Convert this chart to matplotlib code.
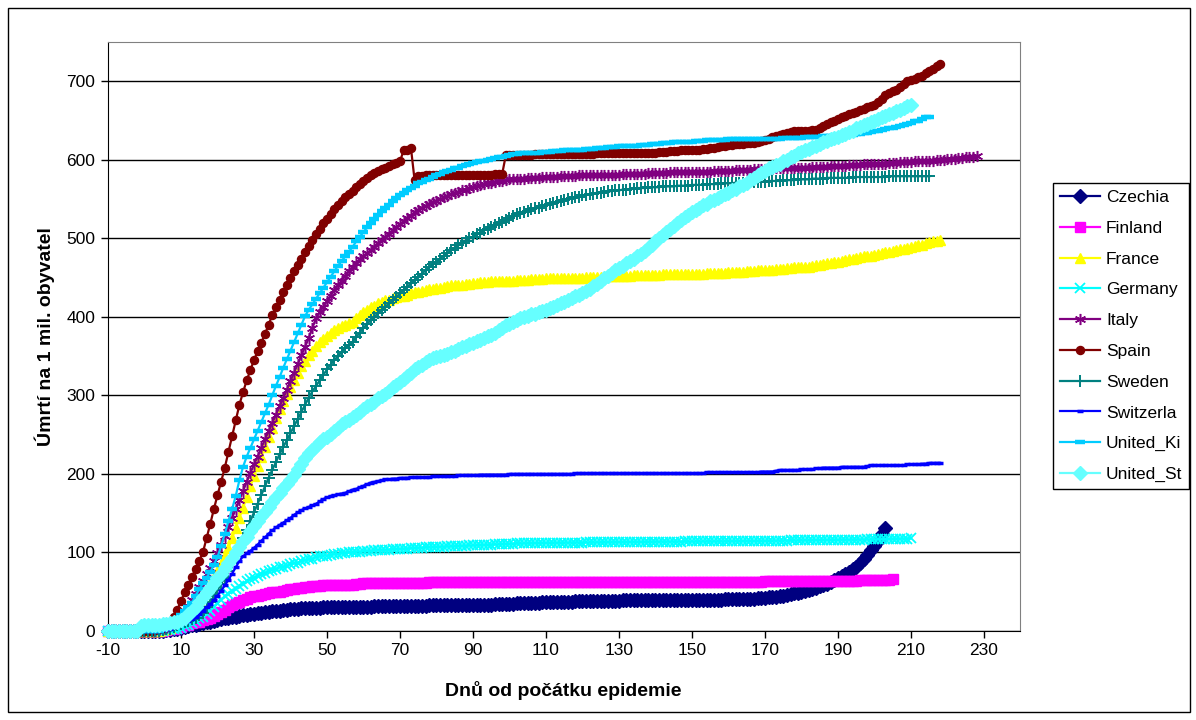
import numpy as np
import matplotlib.pyplot as plt
from matplotlib.patches import Rectangle

plt.rcParams['font.family'] = ['Liberation Sans', 'DejaVu Sans']
plt.rcParams['axes.unicode_minus'] = False

# all series start at day -10, one value per day
first_day = -10

czechia = [
    0, 0, 0, 0, 0, 0, 0, 0, 0, 0,
    0, 0, 0, 0, 0, 0.5, 1, 1.5, 2, 3,
    4, 5, 6, 7, 8, 9, 10, 11, 12, 13,
    14, 15, 16, 17, 17.5, 18, 19, 20, 20.5, 21,
    22, 22.5, 23, 24, 24.5, 25, 25.5, 26, 26.5, 27,
    27.5, 28, 28.5, 28.8, 29, 29.2, 29.4, 29.6, 29.8, 30,
    30, 30.2, 30.3, 30.4, 30.5, 30.6, 30.7, 30.8, 30.9, 31,
    31, 31, 31.1, 31.2, 31.3, 31.4, 31.5, 31.5, 31.6, 31.7,
    31.8, 31.9, 32, 32, 32.1, 32.2, 32.2, 32.3, 32.4, 32.4,
    32.5, 32.5, 32.6, 32.6, 32.7, 32.7, 32.8, 32.8, 32.9, 32.9,
    33, 33, 33, 33.2, 33.4, 33.6, 33.8, 34, 34.2, 34.4,
    34.6, 34.8, 35, 35.2, 35.4, 35.6, 35.8, 36, 36.2, 36.4,
    36.6, 36.8, 37, 37, 37.1, 37.2, 37.3, 37.4, 37.5, 37.6,
    37.7, 37.8, 37.9, 38, 38.1, 38.2, 38.3, 38.4, 38.5, 38.6,
    38.7, 38.8, 38.9, 39, 39, 39, 39, 39, 39, 39.1,
    39.1, 39.2, 39.2, 39.3, 39.3, 39.4, 39.4, 39.5, 39.5, 39.6,
    39.6, 39.7, 39.7, 39.8, 39.8, 39.9, 39.9, 40, 40, 40.1,
    40.2, 40.3, 40.4, 40.5, 40.7, 40.9, 41.1, 41.3, 41.6, 41.9,
    42.2, 42.6, 43, 43.6, 44.3, 45, 45.8, 46.7, 47.7, 48.8,
    50, 51.2, 52.5, 53.8, 55.2, 56.7, 58.3, 60, 62, 64.5,
    67, 69.5, 72, 75, 78.5, 82, 86, 91, 97, 103,
    108, 115, 123, 131,
]

finland = [
    0, 0, 0, 0, 0, 0, 0, 0, 0, 0,
    0, 0, 0, 0, 0, 0.5, 1, 2, 3, 4,
    5, 7, 8, 10, 11, 12, 14, 15, 17, 19,
    21, 24, 27, 30, 33, 35, 37, 39, 41, 43,
    44, 45, 46, 47, 48, 49, 49.5, 50, 51, 52,
    53, 54, 54.5, 55, 56, 56.5, 57, 57, 57.5, 58,
    58, 58, 58.5, 58.5, 59, 59, 59, 59, 60, 60,
    60.5, 61, 61, 61, 61.2, 61.3, 61.4, 61.5, 61.5, 61.5,
    61.5, 61.5, 61.5, 61.6, 61.6, 61.6, 61.6, 61.6, 61.7, 61.7,
    61.7, 61.7, 61.8, 61.8, 61.8, 61.8, 61.9, 61.9, 61.9, 61.9,
    62.2, 62.2, 62.2, 62.2, 62.3, 62.3, 62.3, 62.3, 62.3, 62.3,
    62.3, 62.3, 62.4, 62.4, 62.4, 62.4, 62.4, 62.4, 62.4, 62.4,
    62.4, 62.4, 62.5, 62.5, 62.5, 62.5, 62.5, 62.5, 62.5, 62.5,
    62.5, 62.5, 62.5, 62.5, 62.5, 62.5, 62.6, 62.6, 62.6, 62.6,
    62.6, 62.6, 62.6, 62.6, 62.6, 62.6, 62.6, 62.6, 62.6, 62.6,
    62.7, 62.7, 62.7, 62.7, 62.7, 62.7, 62.7, 62.7, 62.7, 62.7,
    62.7, 62.7, 62.8, 62.8, 62.8, 62.8, 62.8, 62.8, 62.8, 62.8,
    62.8, 62.8, 62.8, 62.8, 62.9, 62.9, 62.9, 62.9, 62.9, 62.9,
    64, 64, 64, 64, 64, 64, 64, 64, 64, 64,
    64, 64, 64, 64.1, 64.1, 64.1, 64.1, 64.1, 64.1, 64.1,
    64.2, 64.2, 64.2, 64.2, 64.2, 64.2, 64.3, 64.3, 64.3, 64.3,
    64.5, 65, 65, 65.5, 65.5, 66,
]

france = [
    0, 0, 0, 0, 0, 0, 0, 0, 0, 0,
    0, 0, 0, 0, 0, 1, 2, 4, 6, 9,
    13, 17, 22, 28, 34, 40, 47, 54, 61, 68,
    76, 85, 95, 105, 118, 131, 144, 157, 170, 184,
    197, 210, 222, 234, 247, 259, 271, 283, 293, 302,
    311, 320, 329, 337, 344, 351, 357, 363, 368, 372,
    376, 380, 383, 386, 388, 390, 392, 394, 398, 402,
    406, 409, 412, 414, 417, 419, 421, 422, 424, 425,
    426, 427, 428, 430, 431, 432, 433, 434, 435, 436,
    437, 437, 438, 439, 440, 440, 441, 441, 442, 442,
    443, 443, 444, 444, 444, 445, 445, 445, 446, 446,
    446, 446, 447, 447, 447, 447, 448, 448, 448, 448,
    449, 449, 449, 449, 449, 450, 450, 450, 450, 450,
    450, 451, 451, 451, 451, 451, 451, 452, 452, 452,
    452, 452, 452, 452, 453, 453, 453, 453, 453, 453,
    453, 453, 454, 454, 454, 454, 454, 454, 455, 455,
    455, 455, 455, 455, 456, 456, 456, 456, 456, 456,
    457, 457, 457, 457, 457, 458, 458, 458, 459, 459,
    459, 460, 460, 461, 461, 461, 462, 462, 463, 463,
    463, 464, 464, 465, 466, 466, 467, 468, 469, 470,
    470, 471, 472, 473, 474, 475, 476, 477, 477, 478,
    479, 480, 481, 482, 483, 484, 485, 486, 487, 488,
    489, 490, 491, 492, 494, 495, 496, 497, 498,
]

germany = [
    0, 0, 0, 0, 0, 0, 0, 0, 0, 0,
    0, 0, 0, 0, 0, 0.5, 1, 1.5, 2, 3,
    4, 6, 8, 10, 13, 16, 18, 22, 26, 30,
    35, 40, 44, 47, 51, 54, 57, 60, 63, 66,
    68, 70, 72, 74, 76, 78, 79, 81, 82, 83,
    85, 86, 87, 89, 90, 91, 92, 94, 95, 96,
    96, 97, 98, 98, 99, 99, 100, 100, 101, 101,
    101.5, 102, 102, 102.5, 103, 103, 103, 103.5, 103.8, 104,
    104.3, 104.6, 104.9, 105.2, 105.5, 105.8, 106, 106.3, 106.6, 106.8,
    107, 107.2, 107.4, 107.6, 107.8, 108, 108.2, 108.4, 108.6, 108.8,
    109, 109.2, 109.4, 109.6, 109.8, 110, 110.2, 110.4, 110.6, 110.8,
    111, 111.2, 111.4, 111.5, 111.6, 111.7, 111.8, 111.9, 112, 112,
    112.1, 112.2, 112.2, 112.3, 112.3, 112.4, 112.4, 112.5, 112.5, 112.6,
    112.6, 112.7, 112.7, 112.8, 112.8, 112.9, 112.9, 113, 113, 113,
    113.1, 113.1, 113.2, 113.2, 113.3, 113.3, 113.4, 113.4, 113.5, 113.6,
    113.6, 113.6, 113.7, 113.7, 113.7, 113.8, 113.8, 113.8, 113.9, 113.9,
    113.9, 114, 114, 114, 114.1, 114.1, 114.1, 114.2, 114.2, 114.2,
    114.3, 114.3, 114.3, 114.4, 114.4, 114.4, 114.5, 114.5, 114.5, 114.6,
    114.6, 114.7, 114.8, 114.9, 115, 115, 115.1, 115.2, 115.2, 115.3,
    115.4, 115.4, 115.5, 115.6, 115.6, 115.7, 115.8, 115.8, 115.9, 116,
    116, 116, 116.1, 116.1, 116.2, 116.2, 116.3, 116.4, 116.5, 116.5,
    116.6, 116.7, 116.8, 116.9, 117, 117.1, 117.3, 117.4, 117.5, 117.7,
    117.8,
]

italy = [
    0, 0, 0, 0, 0, 0, 0, 0, 0, 0,
    0, 0, 0, 0, 1, 2, 4, 7, 10, 14,
    19, 25, 32, 39, 47, 56, 64, 72, 80, 89,
    99, 110, 121, 132, 144, 155, 167, 178, 190, 201,
    212, 222, 233, 244, 254, 265, 275, 286, 296, 307,
    318, 329, 340, 351, 362, 373, 386, 398, 406, 413,
    420, 427, 434, 440, 446, 452, 458, 464, 468, 473,
    477, 481, 485, 489, 494, 498, 502, 506, 510, 514,
    518, 522, 526, 529, 533, 536, 539, 541, 544, 546,
    548, 550, 552, 554, 556, 558, 559, 561, 562, 564,
    565, 567, 568, 569, 570, 571, 572, 573, 573, 574,
    575, 575, 576, 576, 576, 577, 577, 577, 577, 578,
    578, 578, 578, 578, 579, 579, 579, 579, 579, 580,
    580, 580, 580, 580, 581, 581, 581, 581, 581, 581,
    581, 582, 582, 582, 582, 582, 582, 582, 583, 583,
    583, 583, 583, 583, 584, 584, 584, 584, 584, 584,
    585, 585, 585, 585, 585, 585, 586, 586, 586, 586,
    586, 586, 587, 587, 587, 587, 587, 588, 588, 588,
    588, 588, 588, 589, 589, 589, 589, 589, 590, 590,
    590, 590, 590, 591, 591, 591, 591, 591, 592, 592,
    592, 592, 592, 593, 593, 593, 593, 594, 594, 594,
    595, 595, 595, 595, 596, 596, 596, 597, 597, 597,
    597, 598, 598, 598, 599, 599, 599, 600, 600, 600,
    601, 601, 601, 602, 602, 603, 603, 604, 605,
]

spain = [
    0, 0, 0, 0, 0, 0, 0, 0, 0, 0,
    0, 0, 0, 1, 2, 4, 7, 12, 18, 27,
    38, 49, 59, 69, 79, 89, 100, 118, 136, 155,
    173, 190, 208, 228, 248, 268, 288, 304, 319, 332,
    345, 356, 367, 378, 390, 402, 412, 422, 431, 440,
    449, 458, 466, 474, 482, 490, 498, 505, 512, 519,
    525, 531, 537, 542, 547, 552, 556, 560, 565, 569,
    573, 577, 580, 583, 586, 588, 590, 592, 594, 596,
    598, 612, 613, 615, 574, 579, 579, 580, 580, 580,
    580, 580, 580, 580, 581, 581, 581, 581, 581, 581,
    581, 581, 581, 581, 581, 581, 582, 582, 582, 606,
    606, 606, 606, 606, 606, 606, 606, 607, 607, 607,
    607, 607, 607, 607, 607, 607, 607, 607, 607, 607,
    607, 607, 607, 607, 608, 608, 608, 608, 608, 608,
    608, 608, 608, 608, 608, 608, 608, 608, 609, 609,
    609, 610, 610, 610, 611, 611, 611, 612, 612, 612,
    613, 613, 613, 614, 614, 615, 615, 616, 617, 618,
    619, 619, 620, 620, 620, 621, 621, 621, 622, 624,
    625, 627, 629, 630, 631, 633, 634, 635, 636, 636,
    637, 637, 637, 638, 638, 640, 643, 646, 648, 650,
    652, 654, 656, 658, 659, 661, 663, 665, 667, 669,
    670, 673, 677, 682, 685, 687, 689, 693, 697, 700,
    702, 703, 705, 707, 710, 713, 716, 719, 722,
]

sweden = [
    0, 0, 0, 0, 0, 0, 0, 0, 0, 0,
    0, 0, 0, 0, 0, 1, 2, 3, 5, 7,
    9, 11, 13, 15, 17, 20, 23, 30, 37, 44,
    52, 60, 68, 76, 86, 96, 107, 118, 129, 140,
    151, 162, 173, 184, 195, 205, 215, 225, 234, 243,
    252, 261, 270, 279, 288, 297, 305, 312, 319, 326,
    333, 339, 345, 350, 355, 360, 364, 368, 374, 380,
    386, 391, 396, 400, 405, 409, 413, 417, 421, 425,
    430, 434, 438, 443, 447, 451, 455, 459, 463, 467,
    470, 474, 478, 481, 485, 488, 491, 494, 497, 500,
    502, 505, 507, 510, 512, 515, 517, 519, 521, 523,
    526, 528, 531, 532, 534, 535, 537, 538, 539, 541,
    542, 544, 545, 546, 548, 549, 550, 551, 552, 553,
    555, 555, 556, 557, 558, 558, 559, 560, 560, 561,
    561, 562, 562, 563, 563, 564, 564, 564, 565, 565,
    565, 565, 566, 566, 566, 566, 567, 567, 567, 567,
    568, 568, 568, 568, 569, 569, 569, 569, 570, 570,
    570, 570, 571, 571, 571, 571, 572, 572, 572, 572,
    572, 573, 573, 573, 573, 574, 574, 574, 574, 575,
    575, 575, 575, 576, 576, 576, 576, 577, 577, 577,
    577, 577, 577, 577, 578, 578, 578, 578, 578, 578,
    578, 578, 578, 578, 579, 579, 579, 579, 579, 579,
    579, 579, 579, 579, 579, 579,
]

switzerland = [
    0, 0, 0, 0, 0, 0, 0, 0, 0, 0,
    0, 0, 0, 0, 0, 1, 2, 3, 5, 7,
    9, 11, 13, 15, 18, 22, 26, 30, 34, 39,
    45, 51, 58, 65, 73, 81, 89, 95, 99, 102,
    106, 110, 115, 119, 124, 128, 132, 135, 138, 141,
    144, 148, 151, 154, 156, 158, 160, 162, 165, 168,
    170, 172, 173, 174, 175, 176, 178, 180, 181, 183,
    185, 187, 189, 190, 191, 192, 193, 193, 194, 194,
    195, 195, 195, 196, 196, 196, 196, 196, 196, 197,
    197, 197, 197, 197, 197, 197, 198, 198, 198, 198,
    198, 198, 199, 199, 199, 199, 199, 199, 199, 199,
    200, 200, 200, 200, 200, 200, 200, 200, 200, 200,
    200, 200, 200, 200, 200, 200, 200, 200, 201, 201,
    201, 201, 201, 201, 201, 201, 201, 201, 201, 201,
    201, 201, 201, 201, 201, 201, 201, 201, 201, 201,
    201, 201, 201, 201, 201, 201, 201, 201, 201, 201,
    201, 201, 201, 201, 202, 202, 202, 202, 202, 202,
    202, 202, 202, 202, 202, 202, 202, 202, 202, 203,
    203, 203, 203, 204, 205, 205, 205, 205, 205, 205,
    206, 206, 206, 206, 207, 207, 208, 208, 208, 208,
    208, 209, 209, 209, 209, 209, 209, 209, 210, 211,
    211, 211, 211, 211, 211, 211, 211, 211, 211, 212,
    212, 212, 212, 213, 213, 214, 214, 214, 214,
]

united_kingdom = [
    0, 0, 0, 0, 0, 0, 0, 0, 0, 0,
    0, 0, 0, 0, 0, 2, 4, 7, 10, 15,
    20, 25, 30, 36, 45, 53, 61, 68, 75, 84,
    94, 108, 124, 140, 155, 172, 192, 209, 222, 233,
    244, 255, 266, 277, 288, 300, 312, 323, 335, 346,
    357, 368, 379, 390, 401, 409, 416, 423, 430, 437,
    444, 451, 458, 465, 471, 477, 483, 489, 496, 502,
    508, 514, 520, 525, 530, 535, 539, 543, 547, 551,
    555, 558, 561, 564, 567, 570, 572, 574, 576, 578,
    580, 582, 584, 586, 587, 589, 590, 592, 593, 594,
    596, 597, 598, 599, 600, 601, 602, 603, 604, 605,
    606, 607, 607, 608, 608, 608, 609, 609, 609, 610,
    610, 610, 611, 611, 611, 612, 612, 612, 613, 613,
    613, 614, 614, 614, 615, 615, 615, 616, 616, 616,
    617, 617, 617, 618, 618, 618, 619, 619, 619, 620,
    620, 620, 621, 621, 621, 622, 622, 622, 623, 623,
    623, 624, 624, 624, 625, 625, 625, 625, 625, 625,
    626, 626, 626, 626, 626, 626, 626, 626, 627, 627,
    627, 627, 627, 627, 627, 628, 628, 628, 628, 628,
    628, 629, 629, 629, 629, 629, 630, 630, 630, 630,
    630, 631, 631, 632, 632, 633, 633, 634, 634, 635,
    636, 637, 638, 639, 640, 641, 642, 643, 644, 646,
    647, 649, 650, 652, 654, 655,
]

united_states = [
    0, 0, 0, 0, 0, 0, 0, 0, 0, 6,
    7, 7, 8, 8, 8, 9, 9, 10, 11, 12,
    14, 17, 21, 26, 31, 37, 43, 49, 55, 61,
    67, 73, 80, 86, 93, 100, 107, 114, 120, 127,
    133, 140, 146, 152, 158, 164, 170, 176, 182, 187,
    192, 199, 206, 213, 220, 226, 231, 236, 240, 244,
    247, 251, 255, 259, 263, 266, 269, 272, 275, 279,
    282, 286, 289, 292, 296, 299, 302, 306, 310, 313,
    317, 321, 325, 329, 333, 336, 339, 342, 345, 347,
    349, 350, 352, 353, 355, 357, 359, 361, 363, 365,
    367, 369, 371, 373, 375, 377, 380, 383, 386, 389,
    391, 394, 396, 398, 400, 401, 403, 404, 406, 408,
    409, 411, 413, 415, 417, 419, 421, 424, 426, 428,
    430, 433, 436, 439, 442, 446, 449, 452, 456, 459,
    462, 465, 468, 471, 474, 477, 480, 484, 488, 492,
    496, 500, 504, 508, 512, 516, 520, 523, 527, 530,
    533, 536, 539, 542, 544, 547, 549, 551, 554, 556,
    558, 561, 563, 566, 568, 571, 574, 577, 580, 583,
    586, 589, 591, 593, 595, 598, 600, 603, 605, 608,
    610, 612, 614, 616, 618, 620, 622, 624, 626, 628,
    629, 631, 633, 635, 637, 640, 642, 644, 646, 648,
    650, 652, 654, 656, 658, 660, 662, 664, 666, 668,
    670,
]

labels = ['Czechia', 'Finland', 'France', 'Germany', 'Italy', 'Spain',
          'Sweden', 'Switzerla', 'United_Ki', 'United_St']
series = [czechia, finland, france, germany, italy, spain,
          sweden, switzerland, united_kingdom, united_states]

# excel 2003 style colours and markers, same order as labels
colors = ['#000080', '#FF00FF', '#FFFF00', '#00FFFF', '#800080', '#800000',
          '#008080', '#0000FF', '#00CCFF', '#66FFFF']
markers = ['D', 's', '^', 'x', (6, 2, 0), 'o', '+', '_', '_', 'D']
msizes = [7, 6.5, 7.5, 7, 8, 5.8, 9, 4.5, 7.5, 7]
mwidths = [1, 1, 1, 1.3, 1.1, 1, 1.4, 2.5, 3.2, 1]

fig = plt.figure(figsize=(11.96, 7.2), dpi=100)
ax = fig.add_axes([0.0903, 0.1237, 0.7625, 0.818])

for vals, lab, col, mk, ms, mw in zip(series, labels, colors, markers, msizes, mwidths):
    days = np.arange(first_day, first_day + len(vals))
    ax.plot(days, vals, color=col, marker=mk, markersize=ms, markeredgewidth=mw,
            markerfacecolor=col, markeredgecolor=col, linewidth=1.6,
            label=lab, clip_on=False, zorder=3)

ax.set_xlim(-9.07, 239.85)
ax.set_ylim(0, 750)
ax.set_xticks(np.arange(-10, 231, 20))
ax.set_yticks(np.arange(0, 701, 100))
ax.tick_params(direction='out', length=5, width=1, labelsize=12.5, pad=4)
ax.yaxis.grid(True, color='black', linewidth=1)
ax.set_axisbelow(True)

for side in ['top', 'right']:
    ax.spines[side].set_color('#808080')
for side in ['left', 'bottom']:
    ax.spines[side].set_color('black')

fig.text(45 / 1196, 1 - 337 / 720, 'Úmrtí na 1 mil. obyvatel', rotation=90,
         ha='center', va='center', fontsize=14, fontweight='bold')
fig.text(563 / 1196, 1 - 690 / 720, 'Dnů od počátku epidemie',
         ha='center', va='center', fontsize=14, fontweight='bold')

leg = ax.legend(loc='upper left', bbox_to_anchor=(1053 / 1196, 1 - 183 / 720),
                bbox_transform=fig.transFigure, fontsize=12.5, numpoints=1,
                handlelength=2.3, labelspacing=0.9, borderaxespad=0,
                fancybox=False, edgecolor='black', framealpha=1,
                borderpad=0.4, handletextpad=0.35)
leg.get_frame().set_linewidth(1)

# outer chart border
fig.patches.append(Rectangle((8 / 1196, 8 / 720), 1182 / 1196, 704 / 720,
                             transform=fig.transFigure, fill=False,
                             edgecolor='black', linewidth=1))

plt.savefig('out.png', dpi=100)
